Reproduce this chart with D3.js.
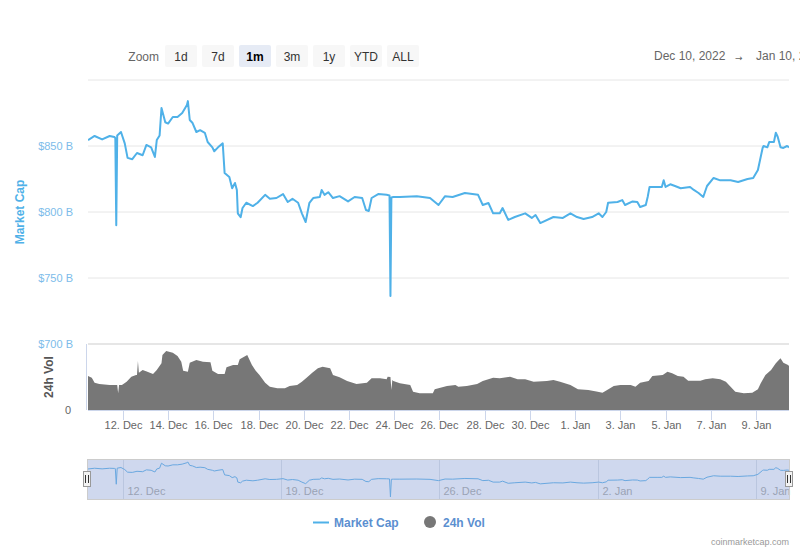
<!DOCTYPE html>
<html><head><meta charset="utf-8">
<script src="https://cdn.jsdelivr.net/npm/d3@7"></script>
<style>
html,body{margin:0;padding:0;background:#fff;}
svg{font-family:"Liberation Sans",Arial,sans-serif;display:block;}
</style></head>
<body>
<svg id="c" width="800" height="550"></svg>
<script>
// time points are hours since Dec 10, 2022 00:00
const START = new Date(2022, 11, 10, 0, 0);
const capHours = [11,18,26,34,39,40,41,42,46,50,53,58,63,69,73,78,82,84,87,89,93,96,101,106,111,116,117,119,122,126,130,135,138,143,145,149,154,156,161,164,167,169,170,173,175,179,186,191,199,204,211,218,223,228,234,238,242,246,250,257,259,262,266,271,278,287,294,302,306,309,312,319,328,331,332,333,335,342,360,374,383,390,398,411,425,430,436,441,448,451,457,464,475,482,486,491,505,515,523,530,537,546,553,557,561,563,573,578,581,589,594,597,603,605,607,615,620,622,624,629,634,640,650,654,659,664,668,675,682,693,701,711,717,722,727,728,732,734,739,741,743,746,749,753,755];
const capValues = [854.5,857.6,855,857.6,856.8,856,790,858,860.6,852,841,840,844.7,843,850.8,849,841.7,854.5,858,878.8,868,867,872,872,875,881,884,869.7,867.4,860.6,862,860,853,849,846,849,852,829.5,826.5,818,822,816.7,799,796,803,807,804.5,807,813,810,810.6,813.6,807.6,810,807,799,792.4,807,810.6,811.4,816.7,813,815,810.6,812,808,811.4,810.6,801.5,800.8,810.6,813.6,813,812.5,736.4,811,811.4,811.4,812,810.6,805.3,812,811.4,814.4,813,805.3,806.8,799,799,803,794,796.2,799,795.5,797.7,791.6,796.2,795.5,799,796.2,794.7,796.2,799,796.2,800,807,807.6,809,805.3,808,807.6,803.8,805.3,811.4,819,819,819,824,819,821,819.7,818,819,816.7,814.4,811.4,819.7,825.8,824,824,822.7,825,825.8,831.8,848.5,850,849,853,853,860,857,849,848.5,850,849];
const volHours = [11,15,18,23,34,39,42,43,44,47,52,57,62,63,64,65,69,74,80,84,89,90,94,101,106,110,112,117,119,126,133,141,143,149,156,158,165,170,172,180,185,189,193,199,204,212,220,225,233,238,243,249,255,260,268,271,278,286,296,307,312,321,328,329,332,333,334,335,342,353,356,363,377,379,392,401,404,413,424,430,441,448,459,467,475,484,498,505,512,523,531,542,552,557,562,569,576,587,592,597,606,610,621,626,631,637,643,648,661,666,674,682,688,693,698,707,716,722,725,730,736,741,746,749,754,755];
const volValues = [34,32.3,27.3,26,25,25,25,16.7,25,25,28.3,33.3,35,35,49,37.3,40,38.3,36,40,46.7,55,59,57.3,54,48.3,39.3,38.3,47.3,50,48.3,47.7,39.3,36,36,42.7,45,45,50.7,55,45,39.3,35,27.3,23.3,21.7,21.7,24,25,28.3,32.3,37.3,41.7,43.3,41.7,35,32.7,29,26,27.3,31.7,31.7,30.7,33.3,33,20,30,29,26.7,25,18.3,16.7,16.7,20.7,24,25,23.3,24,26,29,32.3,31.7,33.3,30.7,30.7,28.3,29,30,28.3,25,20.7,20,18.3,17.3,20,24,25,25,23.3,27.3,29,34,35,38.3,36.7,34,33.3,29.3,29.3,30.7,31.7,30.7,28.3,23.3,18.3,16.7,17.3,20.7,26.7,35,40,46.7,51.7,47.3,45,44];
const capTicks = [700,750,800,850];
const xTickDates = ["12. Dec","14. Dec","16. Dec","18. Dec","20. Dec","22. Dec","24. Dec","26. Dec","28. Dec","30. Dec","1. Jan","3. Jan","5. Jan","7. Jan","9. Jan"];
const navTickDates = ["12. Dec","19. Dec","26. Dec","2. Jan","9. Jan"];
const zoomButtons = ["1d","7d","1m","3m","1y","YTD","ALL"];

const toDate = h => new Date(START.getTime() + h*3600e3);
const cap = capHours.map((h,i)=>({t:toDate(h), v:capValues[i]}));
const vol = volHours.map((h,i)=>({t:toDate(h), v:volValues[i]}));
const parseTick = s => { const [d,m] = s.split(". "); return m==="Dec" ? new Date(2022,11,+d) : new Date(2023,0,+d); };

const svg = d3.select("#c");
const L = 88, R = 789;
const x = d3.scaleTime().domain([toDate(11), toDate(755)]).range([L, R]);
const y = d3.scaleLinear().domain([700, 900]).range([344, 80]);
const yv = d3.scaleLinear().domain([0, 66]).range([410, 344]);
const yn = d3.scaleLinear().domain([736, 884]).range([497, 462]);
const blue = "#4fb1e8";

// gridlines
svg.append("g").selectAll("line").data([...capTicks, 900]).join("line")
  .attr("x1", L).attr("x2", R).attr("y1", d=>y(d)).attr("y2", d=>y(d))
  .attr("stroke", "#e6e6e6").attr("stroke-width", d=>d===700?2:1);
// y axis labels
svg.append("g").selectAll("text").data(capTicks).join("text")
  .attr("x", 73).attr("y", d=>y(d)+4).attr("text-anchor","end")
  .attr("fill","#7cbcea").attr("font-size",11).text(d=>"$"+d+" B");
svg.append("text").attr("transform","translate(24,212) rotate(-90)").attr("text-anchor","middle")
  .attr("fill",blue).attr("font-size",12).attr("font-weight","bold").text("Market Cap");

// volume
const defs = svg.append("defs");
defs.append("clipPath").attr("id","clip").append("rect").attr("x",L).attr("y",60).attr("width",R-L).attr("height",360);
svg.append("path").datum(vol).attr("clip-path","url(#clip)")
  .attr("d", d3.area().x(d=>x(d.t)).y0(410).y1(d=>yv(d.v)))
  .attr("fill","#777777");
svg.append("line").attr("x1",86.5).attr("x2",86.5).attr("y1",344).attr("y2",410).attr("stroke","#ccd6eb");
svg.append("text").attr("x",71).attr("y",414).attr("text-anchor","end").attr("fill","#666").attr("font-size",11).text("0");
svg.append("text").attr("transform","translate(53,377) rotate(-90)").attr("text-anchor","middle")
  .attr("fill","#555").attr("font-size",12).attr("font-weight","bold").text("24h Vol");

// main line
svg.append("path").datum(cap).attr("clip-path","url(#clip)")
  .attr("d", d3.line().x(d=>x(d.t)).y(d=>y(d.v)))
  .attr("fill","none").attr("stroke",blue).attr("stroke-width",2).attr("stroke-linejoin","round");

// x axis
svg.append("line").attr("x1",L).attr("x2",R).attr("y1",410.5).attr("y2",410.5).attr("stroke","#ccd6eb");
const xt = svg.append("g").selectAll("g").data(xTickDates).join("g")
  .attr("transform", d=>`translate(${Math.round(x(parseTick(d)))+0.5},410)`);
xt.append("line").attr("y1",0).attr("y2",10).attr("stroke","#ccd6eb");
xt.append("text").attr("y",19).attr("text-anchor","middle").attr("fill","#666").attr("font-size",11).text(d=>d);

// navigator
svg.append("rect").attr("x",L).attr("y",460).attr("width",R-L).attr("height",39).attr("fill","#cfd8ee");
const nt = svg.append("g").selectAll("g").data(navTickDates).join("g")
  .attr("transform", d=>`translate(${Math.round(x(parseTick(d)))+0.5},0)`);
nt.append("line").attr("y1",460).attr("y2",499).attr("stroke","#bac6df");
nt.append("text").attr("x",4).attr("y",495).attr("fill","#9aa3b5").attr("font-size",11).text(d=>d);
svg.append("path").datum(cap)
  .attr("d", d3.line().x(d=>x(d.t)).y(d=>yn(d.v)))
  .attr("fill","none").attr("stroke","#6aa8e0").attr("stroke-width",1);
svg.append("rect").attr("x",L-0.5).attr("y",459.5).attr("width",R-L+1).attr("height",40).attr("fill","none").attr("stroke","#cccccc");
[L-1, R].forEach(hx=>{
  const g = svg.append("g").attr("transform",`translate(${hx},471)`);
  g.append("rect").attr("x",-3.5).attr("y",0.5).attr("width",7).attr("height",15).attr("fill","#f2f2f2").attr("stroke","#999");
  g.append("line").attr("x1",-1.5).attr("x2",-1.5).attr("y1",4).attr("y2",12).attr("stroke","#333");
  g.append("line").attr("x1",1.5).attr("x2",1.5).attr("y1",4).attr("y2",12).attr("stroke","#333");
});

// range selector
svg.append("text").attr("x",159).attr("y",61).attr("text-anchor","end").attr("fill","#666").attr("font-size",12).text("Zoom");
const bx = [165,202,239,276,313,350,387];
const bg = svg.append("g").selectAll("g").data(zoomButtons).join("g").attr("transform",(d,i)=>`translate(${bx[i]},45)`);
bg.append("rect").attr("width",32).attr("height",22).attr("rx",2).attr("fill",d=>d==="1m"?"#e6ebf5":"#f7f7f7");
bg.append("text").attr("x",16).attr("y",16).attr("text-anchor","middle").attr("font-size",12)
  .attr("fill",d=>d==="1m"?"#000":"#333").attr("font-weight",d=>d==="1m"?"bold":"normal").text(d=>d);
svg.append("text").attr("x",654).attr("y",60).attr("fill","#666").attr("font-size",12).text("Dec 10, 2022");
svg.append("text").attr("x",735).attr("y",61).attr("fill","#666").attr("font-size",9)
  .attr("font-family","DejaVu Sans").text("→");
svg.append("text").attr("x",756).attr("y",60).attr("fill","#666").attr("font-size",12).text("Jan 10, 2023");

// legend
svg.append("line").attr("x1",313).attr("x2",329).attr("y1",522.5).attr("y2",522.5).attr("stroke",blue).attr("stroke-width",2);
svg.append("text").attr("x",334).attr("y",527).attr("fill","#5b8fd0").attr("font-size",12).attr("font-weight","bold").text("Market Cap");
svg.append("circle").attr("cx",430).attr("cy",522).attr("r",6).attr("fill","#777");
svg.append("text").attr("x",443).attr("y",527).attr("fill","#5b8fd0").attr("font-size",12).attr("font-weight","bold").text("24h Vol");
svg.append("text").attr("x",789).attr("y",545).attr("text-anchor","end").attr("fill","#999").attr("font-size",9).text("coinmarketcap.com");
</script>
</body></html>
